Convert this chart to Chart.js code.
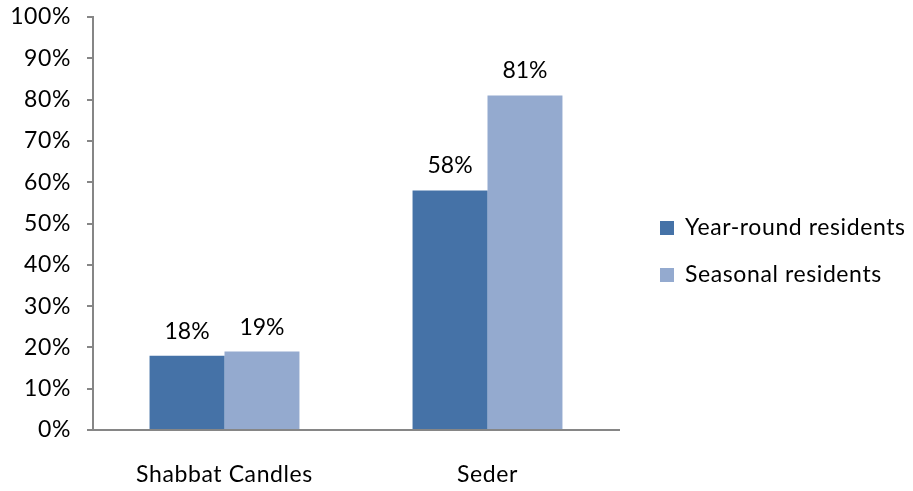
<!DOCTYPE html>
<html>
<head>
<meta charset="utf-8">
<script src="https://cdn.jsdelivr.net/npm/chart.js@4"></script>
<style>
  body { margin: 0; background: #fff; }
  #wrap { width: 913px; height: 491px; }
</style>
</head>
<body>
<div id="wrap"><canvas id="ritualChart" width="913" height="491"></canvas></div>
<script>
const categories = ['Shabbat Candles', 'Seder'];
const yearRound = [18, 58];
const seasonal = [19, 81];
const seriesNames = ['Year-round residents', 'Seasonal residents'];
const yTicks = [0, 10, 20, 30, 40, 50, 60, 70, 80, 90, 100];

const FONT = 'Lato';
const FONT_SIZE = 23;
const AXIS_GRAY = '#868686';

// slightly loose tracking for category and legend text
const tracking = {
    id: 'tracking',
    beforeDraw(chart) {
        chart.ctx.letterSpacing = '0.6px';
    }
};

// percentage printed above every bar
const valueLabels = {
    id: 'valueLabels',
    afterDatasetsDraw(chart) {
        const ctx = chart.ctx;
        ctx.save();
        ctx.letterSpacing = '0px';
        ctx.font = FONT_SIZE + 'px ' + FONT;
        ctx.fillStyle = '#000';
        ctx.textAlign = 'center';
        ctx.textBaseline = 'alphabetic';
        chart.data.datasets.forEach((ds, i) => {
            chart.getDatasetMeta(i).data.forEach((bar, j) => {
                ctx.fillText(ds.data[j] + '%', bar.x, bar.y - 17);
            });
        });
        ctx.restore();
    }
};

// legend sitting to the right of the plot
const sideLegend = {
    id: 'sideLegend',
    afterDraw(chart) {
        const ctx = chart.ctx;
        const left = chart.chartArea.right + 41;
        ctx.save();
        ctx.letterSpacing = '0.6px';
        ctx.font = FONT_SIZE + 'px ' + FONT;
        ctx.textBaseline = 'middle';
        ctx.textAlign = 'left';
        chart.data.datasets.forEach((ds, i) => {
            const top = 221 + i * 47;
            ctx.fillStyle = ds.backgroundColor;
            ctx.fillRect(left, top, 14, 14);
            ctx.fillStyle = '#000';
            ctx.fillText(ds.label, left + 25, top + 7);
        });
        ctx.restore();
    }
};

const ctx = document.getElementById('ritualChart').getContext('2d');
const chart = new Chart(ctx, {
    type: 'bar',
    data: {
        labels: categories,
        datasets: [{
            label: seriesNames[0],
            data: yearRound,
            backgroundColor: '#4572A7',
            barPercentage: 1,
            categoryPercentage: 0.57
        }, {
            label: seriesNames[1],
            data: seasonal,
            backgroundColor: '#94AACF',
            barPercentage: 1,
            categoryPercentage: 0.57
        }]
    },
    options: {
        responsive: false,
        animation: false,
        layout: {
            padding: { top: 17, right: 294, bottom: 0, left: 0 }
        },
        plugins: {
            legend: { display: false },
            tooltip: { enabled: false }
        },
        scales: {
            x: {
                grid: { display: false, drawTicks: false },
                border: { display: true, color: AXIS_GRAY, width: 2 },
                ticks: {
                    color: '#000',
                    font: { family: FONT, size: FONT_SIZE },
                    padding: 31,
                    maxRotation: 0
                },
                afterFit: function(scale) {
                    scale.height = 61;
                }
            },
            y: {
                min: 0,
                max: 100,
                afterBuildTicks: function(scale) {
                    scale.ticks = yTicks.map(v => ({ value: v }));
                },
                grid: {
                    drawOnChartArea: false,
                    drawTicks: true,
                    tickLength: 6,
                    color: AXIS_GRAY,
                    lineWidth: 2
                },
                border: { display: true, color: AXIS_GRAY, width: 2 },
                ticks: {
                    color: '#000',
                    font: { family: FONT, size: FONT_SIZE },
                    padding: 16,
                    callback: v => v + '%'
                },
                afterFit: function(scale) {
                    scale.width = 93;
                    scale.paddingTop = 0;
                    scale.paddingBottom = 0;
                }
            }
        }
    },
    plugins: [tracking, valueLabels, sideLegend]
});
</script>
</body>
</html>
